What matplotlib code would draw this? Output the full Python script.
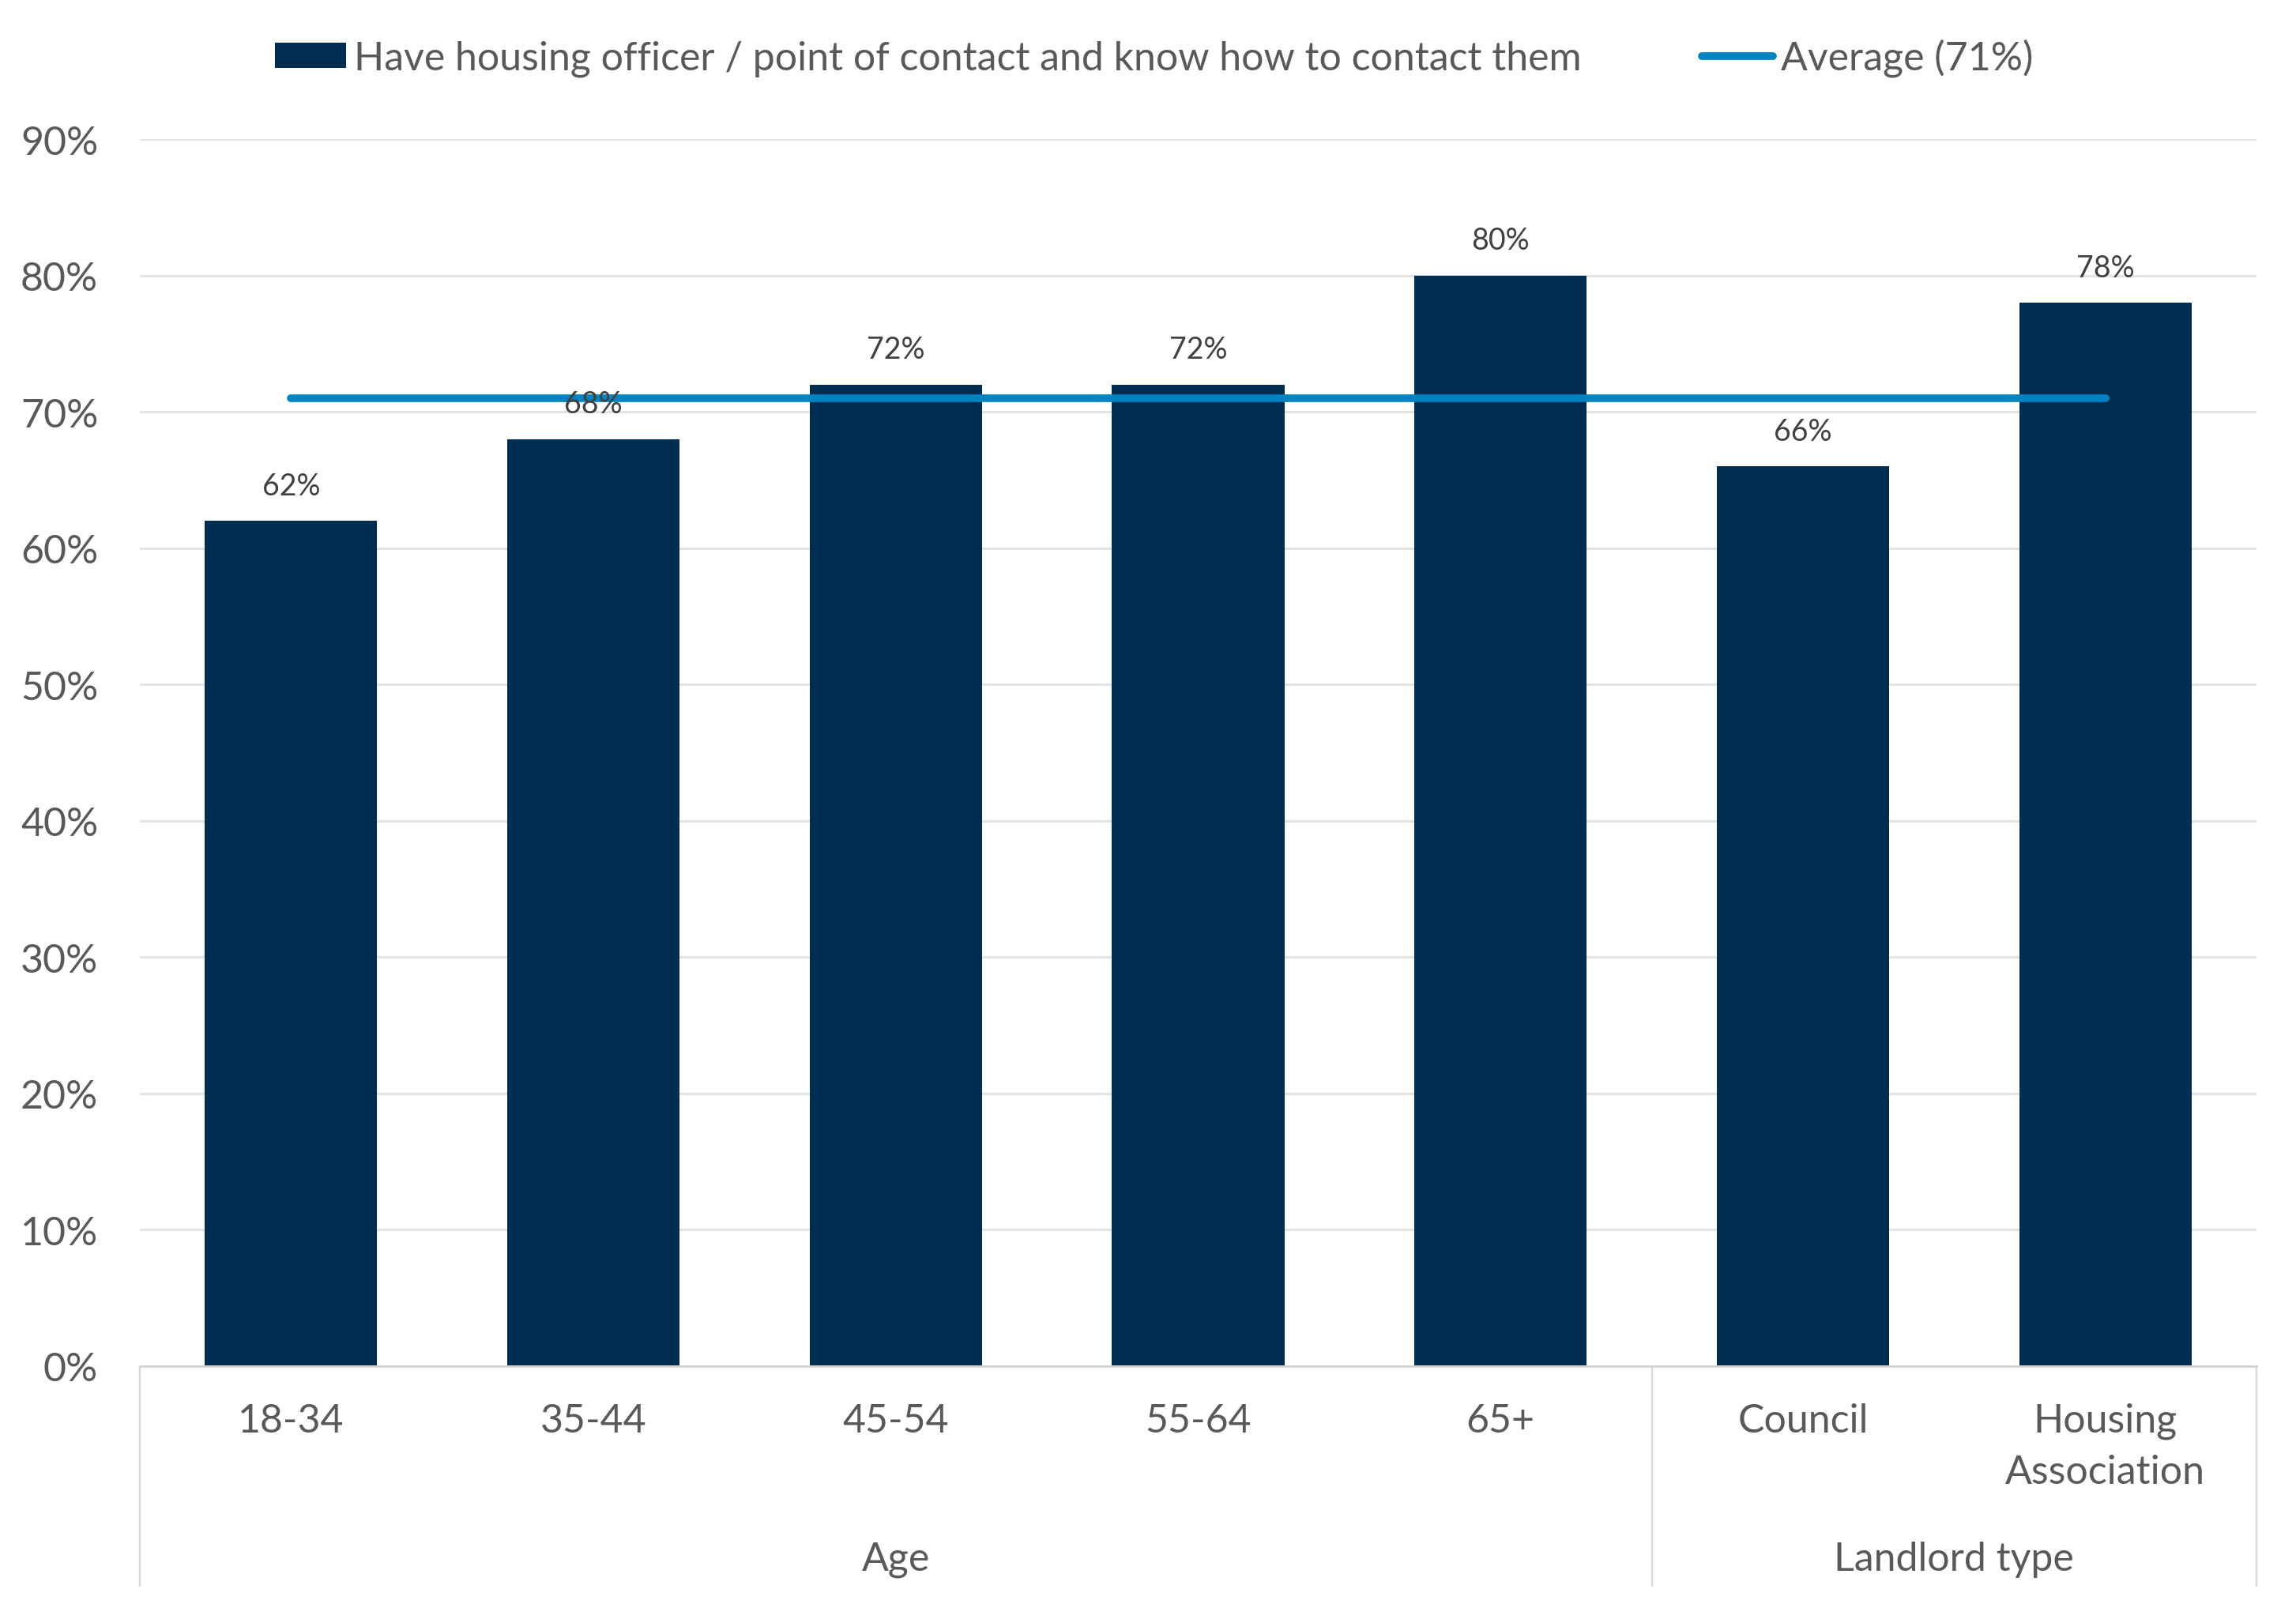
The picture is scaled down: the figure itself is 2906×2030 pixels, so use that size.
import matplotlib.pyplot as plt
from matplotlib.lines import Line2D
from matplotlib.patches import Patch

categories = ["18-34", "35-44", "45-54", "55-64", "65+", "Council", "Housing\nAssociation"]
values = [62, 68, 72, 72, 80, 66, 78]
groups = ["Age", "Landlord type"]
group_sizes = [5, 2]
average = 71
bar_label = "Have housing officer / point of contact and know how to contact them"
avg_label = f"Average ({average}%)"
yticks = list(range(0, 91, 10))

BAR = "#002D52"
LINE = "#0083C1"
TXT = "#595959"
GRID = "#E3E3E3"

plt.rcParams["font.family"] = ["Lato", "DejaVu Sans"]

W, H = 2906, 2031
AX_TOP, AX_BOT = 177, 1730
fig = plt.figure(figsize=(W / 100, H / 100), dpi=100)
ax = fig.add_axes([177 / W, 1 - AX_BOT / H, 2679 / W, (AX_BOT - AX_TOP) / H])


def ay(py):
    # pixel row -> axes fraction
    return (AX_BOT - py) / (AX_BOT - AX_TOP)


x = list(range(len(categories)))
ax.bar(x, values, width=0.57, color=BAR, zorder=2)
ax.plot([x[0], x[-1]], [average, average], color=LINE, lw=7, solid_capstyle="round", zorder=3)

for xi, v in zip(x, values):
    ax.annotate(f"{v}%", (xi, v), xytext=(0, 19), textcoords="offset points",
                ha="center", va="bottom", fontsize=27, color="#404040", zorder=4)

ax.set_xlim(-0.5, len(categories) - 0.5)
ax.set_ylim(0, 90)
ax.set_yticks(yticks)
ax.set_yticklabels([f"{t}%" for t in yticks])
ax.tick_params(axis="y", length=0, pad=38, labelsize=36, labelcolor=TXT)
ax.set_xticks([])
ax.grid(axis="y", color=GRID, lw=2.2, zorder=0)
for s in ["top", "right", "left"]:
    ax.spines[s].set_visible(False)
ax.spines["bottom"].set_color("#D4D4D4")
ax.spines["bottom"].set_linewidth(2.2)
ax.spines["bottom"].set_zorder(5)

# multi-level category axis
trans = ax.get_xaxis_transform()
for xi, c in zip(x, categories):
    ax.text(xi, ay(1776), c, transform=trans, ha="center", va="top",
            fontsize=36, color=TXT, linespacing=1.5, clip_on=False)

start = 0
bounds = [-0.5]
for g, n in zip(groups, group_sizes):
    mid = start + (n - 1) / 2
    ax.text(mid, ay(1974), g, transform=trans, ha="center", va="center",
            fontsize=36, color=TXT, clip_on=False)
    start += n
    bounds.append(start - 0.5)
for b in bounds:
    ax.plot([b, b], [0, ay(2008)], transform=trans, color="#D9D9D9", lw=1.6, clip_on=False)

handles = [Patch(facecolor=BAR, label=bar_label),
           Line2D([0], [0], color=LINE, lw=7, solid_capstyle="round", label=avg_label)]
fig.legend(handles=handles, loc="center", bbox_to_anchor=(1461 / W, 1 - 74 / H), ncol=2,
           frameon=False, fontsize=36, labelcolor=TXT, handlelength=1.8, handleheight=0.6,
           handletextpad=0.2, columnspacing=3.05)

fig.savefig("out.png", dpi=100)
